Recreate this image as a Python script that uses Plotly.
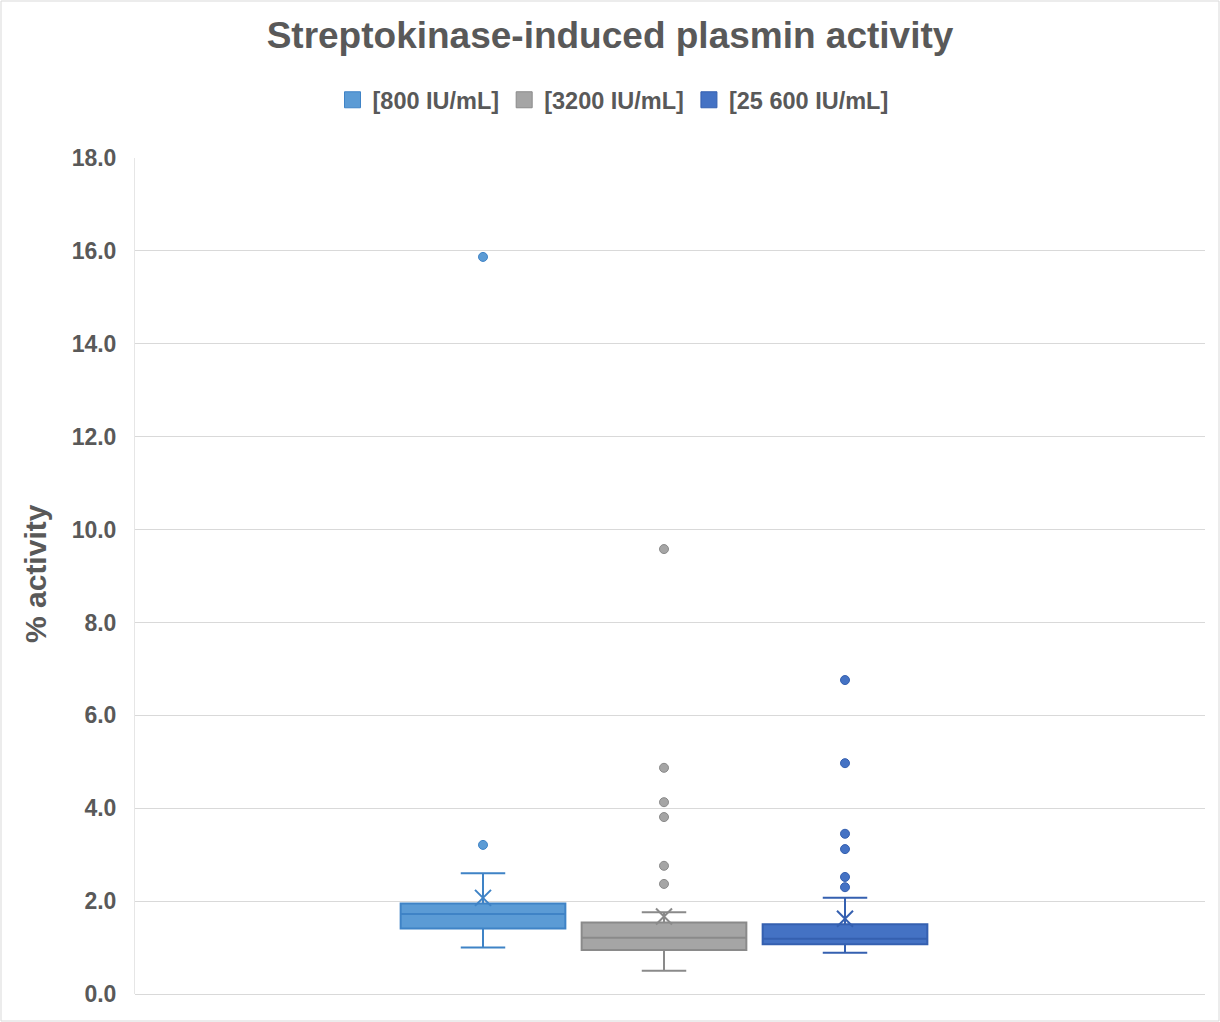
import plotly.graph_objects as go

# Series labels and colours
series = ["[800 IU/mL]", "[3200 IU/mL]", "[25 600 IU/mL]"]
fill_colors = ["#5B9BD5", "#A5A5A5", "#4472C4"]
line_colors = ["#3F83C6", "#8A8A8A", "#3560B0"]
positions = [1, 2, 3]

# Box statistics (% activity)
q1 = [1.41, 0.95, 1.07]
median = [1.72, 1.21, 1.19]
q3 = [1.95, 1.54, 1.50]
lower_whisker = [1.00, 0.50, 0.89]
upper_whisker = [2.60, 1.76, 2.07]
means = [2.07, 1.67, 1.62]

# Outlying values per series
outliers_800 = [3.21, 15.87]
outliers_3200 = [2.37, 2.76, 3.81, 4.13, 4.87, 9.58]
outliers_25600 = [2.30, 2.52, 3.12, 3.45, 4.97, 6.76]
outliers = [outliers_800, outliers_3200, outliers_25600]

y_ticks = [0, 2, 4, 6, 8, 10, 12, 14, 16, 18]

W, H = 1220, 1022
ML, MR, MT, MB = 135, 15, 158, 28
plot_w = W - ML - MR
plot_h = H - MT - MB

fig = go.Figure()

for i in range(3):
    fig.add_trace(go.Box(
        x=[positions[i]],
        q1=[q1[i]], median=[median[i]], q3=[q3[i]],
        lowerfence=[lower_whisker[i]], upperfence=[upper_whisker[i]],
        name=series[i],
        fillcolor=fill_colors[i],
        line=dict(color=line_colors[i], width=2),
        width=0.91,
        whiskerwidth=0.27,
        boxpoints=False,
        showlegend=False,
        hoverinfo="skip",
    ))
    # mean marker
    fig.add_trace(go.Scatter(
        x=[positions[i]], y=[means[i]], mode="markers",
        marker=dict(symbol="x-thin", size=16,
                    line=dict(color=line_colors[i], width=2)),
        showlegend=False, hoverinfo="skip",
    ))
    # outlier points
    fig.add_trace(go.Scatter(
        x=[positions[i]] * len(outliers[i]), y=outliers[i], mode="markers",
        marker=dict(symbol="circle", size=9, color=fill_colors[i],
                    line=dict(color=line_colors[i], width=1)),
        showlegend=False, hoverinfo="skip",
    ))

# legend entries with square swatches
for i in range(3):
    fig.add_trace(go.Scatter(
        x=[None], y=[None], mode="markers", name=f"<b>{series[i]}</b>",
        marker=dict(symbol="square", size=21, color=fill_colors[i],
                    line=dict(color=line_colors[i], width=1)),
        showlegend=True,
    ))

unit_px = 181.0
left_units = (483 - ML) / unit_px
x0 = positions[0] - left_units
x1 = x0 + plot_w / unit_px

fig.update_layout(
    width=W, height=H,
    margin=dict(l=ML, r=MR, t=MT, b=MB),
    paper_bgcolor="white", plot_bgcolor="white",
    font=dict(family="Liberation Sans, Arial, sans-serif", color="#595959"),
    title=dict(
        text="<b>Streptokinase-induced plasmin activity</b>",
        x=0.5, xanchor="center", y=1 - 35 / H, yanchor="middle",
        font=dict(size=37, color="#595959"),
    ),
    legend=dict(
        orientation="h", x=(613 - ML) / plot_w, xanchor="center",
        y=1 + (MT - 100) / plot_h, yanchor="middle",
        font=dict(size=23.5, color="#595959"),
        itemwidth=30, tracegroupgap=0,
    ),
    xaxis=dict(
        range=[x0, x1], showgrid=False, zeroline=False,
        showticklabels=False, showline=False, fixedrange=True,
    ),
    yaxis=dict(
        range=[0, 18], tickvals=y_ticks,
        ticktext=[f"<b>{v:.1f}</b>" for v in y_ticks],
        tickfont=dict(size=23, color="#595959"),
        ticklabelstandoff=13,
        showgrid=True, gridcolor="#D9D9D9", gridwidth=1,
        zeroline=True, zerolinecolor="#D9D9D9", zerolinewidth=1,
        showline=True, linecolor="#E6E6E6", linewidth=1,
        ticks="", ticklen=0,
    ),
    annotations=[dict(
        text="<b>% activity</b>", textangle=-90,
        xref="paper", yref="paper",
        x=-(ML - 35) / plot_w, y=(H - MB - 574) / plot_h,
        xanchor="center", yanchor="middle", showarrow=False,
        font=dict(size=30, color="#595959"),
    )],
    shapes=[dict(
        type="rect", xref="paper", yref="paper",
        x0=-(ML - 1) / plot_w, x1=1 + (MR - 1) / plot_w,
        y0=-(MB - 1) / plot_h, y1=1 + (MT - 1) / plot_h,
        line=dict(color="#D9D9D9", width=1), layer="below",
    )],
)

fig.write_html("out.html")
